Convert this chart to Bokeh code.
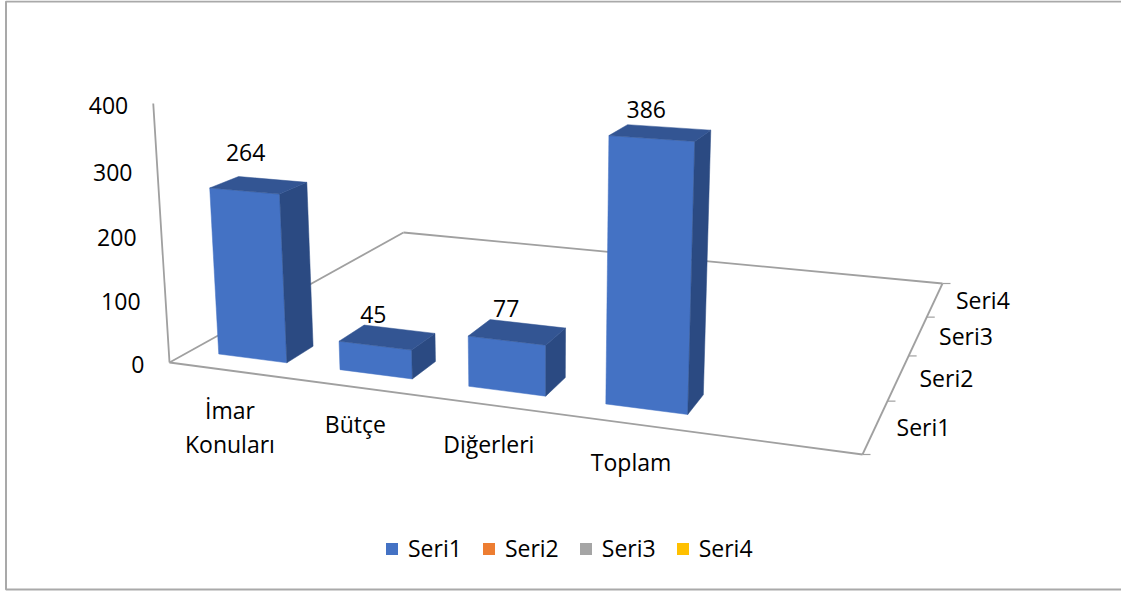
import numpy as np
from bokeh.core.properties import value
from bokeh.embed import file_html
from bokeh.models import Legend, LegendItem, Range1d
from bokeh.plotting import figure
from bokeh.resources import INLINE

categories = ["İmar\nKonuları", "Bütçe", "Diğerleri", "Toplam"]
series_names = ["Seri1", "Seri2", "Seri3", "Seri4"]
seri1 = [264, 45, 77, 386]
value_ticks = [0, 100, 200, 300, 400]
series_colors = ["#4472C4", "#ED7D31", "#A5A5A5", "#FFC000"]

W, H = 1121, 592
FONT = "Open Sans"
FS = "23px"
TOP_COLOR = "#335593"
SIDE_COLOR = "#2B4A82"
AXIS_COLOR = "#A0A0A0"
TEXT_COLOR = "#000000"

# The floor holds one empty category slot after the last real one
SLOTS = len(categories) + 1
ROWS = len(series_names)

# Camera of the 3D box: floor corners, vertical vanishing point, top of the value axis
FLOOR = {(0, 0): (169, 362), (SLOTS, 0): (862, 454), (SLOTS, ROWS): (942, 283), (0, ROWS): (403, 232)}
VANISH = np.array([538.0, 6240.0, 1.0])
AXIS_TOP_Y = 103.0
VMAX = value_ticks[-1]

A, b = [], []
for (u, v), (x, y) in FLOOR.items():
    A.append([u, v, 1, 0, 0, 0, -u * x, -v * x]); b.append(x)
    A.append([0, 0, 0, u, v, 1, -u * y, -v * y]); b.append(y)
h = np.linalg.solve(np.array(A, float), np.array(b, float))
HM = np.array([[h[0], h[1], h[2]], [h[3], h[4], h[5]], [h[6], h[7], 1.0]])
t = (AXIS_TOP_Y - HM[1, 2]) / (VANISH[1] - AXIS_TOP_Y)
SCALE = t / VMAX


def project(u, v, w=0.0):
    q = HM @ np.array([u, v, 1.0]) + SCALE * w * VANISH
    return float(q[0] / q[2]), float(q[1] / q[2])


p = figure(width=W, height=H, x_range=Range1d(0, W), y_range=Range1d(H, 0),
           output_backend="svg", toolbar_location=None, min_border=0,
           outline_line_color=None, background_fill_color="white")
p.axis.visible = False
p.grid.visible = False


def seg(a, b, **kw):
    p.line([a[0], b[0]], [a[1], b[1]], **kw)


# outer chart frame
FRAME = dict(line_color="#A9A9A9", line_width=2)
p.line([W, 5.5, 5.5, W], [1, 1, 589, 589], **FRAME)

# box lines
AX = dict(line_color=AXIS_COLOR, line_width=1.8)
seg(project(0, 0), project(SLOTS, 0), **AX)
seg(project(0, 0), project(0, ROWS), **AX)
seg(project(0, ROWS), project(SLOTS, ROWS), **AX)
seg(project(SLOTS, 0), project(SLOTS, ROWS), **AX)
seg(project(0, 0), project(0, 0, VMAX), **AX)
for k in range(ROWS + 1):
    xt, yt = project(SLOTS, k)
    seg((xt, yt), (xt + 8, yt), line_color=AXIS_COLOR, line_width=1.2)

# bars
BAR_CENTER = 0.52
BAR_HALF = 0.2845
V0, V1 = 0.29, 0.69
front, side, top = ([], []), ([], []), ([], [])
for i, val in enumerate(seri1):
    u0, u1 = i + BAR_CENTER - BAR_HALF, i + BAR_CENTER + BAR_HALF
    faces = {
        0: [(u0, V0, 0), (u1, V0, 0), (u1, V0, val), (u0, V0, val)],
        1: [(u1, V0, 0), (u1, V1, 0), (u1, V1, val), (u1, V0, val)],
        2: [(u0, V0, val), (u1, V0, val), (u1, V1, val), (u0, V1, val)],
    }
    for key, store in zip((0, 1, 2), (front, side, top)):
        pts = [project(*c) for c in faces[key]]
        store[0].append([q[0] for q in pts])
        store[1].append([q[1] for q in pts])

p.patches(front[0], front[1], fill_color=series_colors[0], line_color=series_colors[0], line_width=0.5)
p.patches(side[0], side[1], fill_color=SIDE_COLOR, line_color=SIDE_COLOR, line_width=0.5)
p.patches(top[0], top[1], fill_color=TOP_COLOR, line_color=TOP_COLOR, line_width=0.5)


def label(x, y, s, align="center"):
    p.text([x], [y], text=[s], text_font=value(FONT), text_font_size=FS, text_color=TEXT_COLOR,
           text_align=align, text_baseline="middle")


# value axis labels
for val in value_ticks:
    x, y = project(0, 0, val)
    label(x - 25, y + 2, str(val), "right")

# data labels
LABEL_DY = [-33, -23, -24, -23]
LABEL_DX = [-13, -14, -11, -14]
for i, val in enumerate(seri1):
    x, y = project(i + BAR_CENTER, (V0 + V1) / 2, val)
    label(x + LABEL_DX[i], y + LABEL_DY[i], str(val))

# category labels
CAT_DY = [40, 37, 39, 38]
for i, cat in enumerate(categories):
    x, y = project(i + 0.5, 0)
    for n, line in enumerate(cat.split("\n")):
        label(x + 0.5, y + CAT_DY[i] + 34 * n, line)

# series (depth) labels
for k, name in enumerate(series_names):
    x, y = project(SLOTS, k + 0.5)
    label(x + 21, y, name, "left")

# legend: only Seri1 has values, the other series exist without any bar
nan = float("nan")
items = []
for name, col in zip(series_names, series_colors):
    r = p.quad(left=[nan], right=[nan], top=[nan], bottom=[nan], fill_color=col, line_color=None)
    items.append(LegendItem(label=name, renderers=[r]))
leg = Legend(items=items, orientation="horizontal", location=(384, 28), background_fill_alpha=0,
             border_line_color=None, glyph_width=15, glyph_height=15, label_standoff=9, spacing=19,
             label_text_font=FONT, label_text_font_size=FS, label_text_color=TEXT_COLOR,
             padding=8, margin=0)
p.add_layout(leg, "center")

html = file_html(p, INLINE)
html = html.replace("<head>", "<head><style>html,body{margin:0;padding:0;overflow:hidden}</style>", 1)
open("out.html", "w").write(html)
